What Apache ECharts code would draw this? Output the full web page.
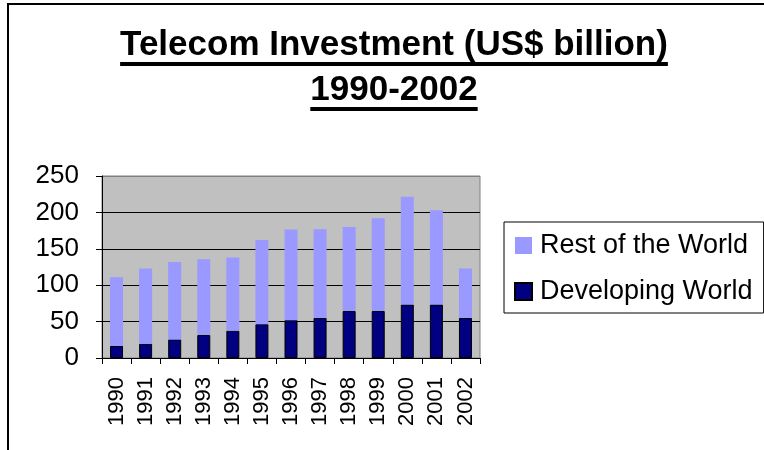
<!DOCTYPE html>
<html>
<head>
<meta charset="utf-8">
<script src="https://cdn.jsdelivr.net/npm/echarts@6/dist/echarts.min.js"></script>
<style>
  html, body { margin: 0; padding: 0; background: #fff; }
  #main { width: 764px; height: 450px; }
</style>
</head>
<body>
<div id="main"></div>
<script>
// data
const years = ['1990', '1991', '1992', '1993', '1994', '1995', '1996', '1997', '1998', '1999', '2000', '2001', '2002'];
const developingWorld = [16.5, 19.5, 25.5, 31.5, 37.5, 46.5, 52, 55, 64.5, 64.5, 73.5, 73.5, 55];
const restOfWorld = [94.5, 103.5, 106.5, 104, 100.5, 115.5, 124.5, 122, 115.5, 127.5, 148, 129.5, 68];
const yTicks = [0, 50, 100, 150, 200, 250];
const titleLines = ['Telecom Investment (US$ billion)', '1990-2002'];

const font = 'Liberation Sans, Arial, sans-serif';
const titleFont = 'bold 35px ' + font;
const titleX = 394;
const titleY = [45.6, 90.6];

// measure title text so the underline fits it
const ctx = document.createElement('canvas').getContext('2d');
ctx.font = titleFont;
const underlines = titleLines.map(function (t, i) {
  const w = ctx.measureText(t).width;
  return {
    type: 'rect',
    shape: { x: titleX - w / 2, y: titleY[i] + 16.5, width: w, height: 4 },
    style: { fill: '#000' }
  };
});

const chart = echarts.init(document.getElementById('main'));
chart.setOption({
  animation: false,
  backgroundColor: '#fff',
  graphic: [
    {
      type: 'rect',
      shape: { x: 8, y: 4, width: 900, height: 700 },
      style: { fill: 'none', stroke: '#000', lineWidth: 2 }
    },
    {
      type: 'text',
      style: { text: titleLines[0], x: titleX, y: titleY[0], align: 'center', verticalAlign: 'middle', font: titleFont, fill: '#000' }
    },
    {
      type: 'text',
      style: { text: titleLines[1], x: titleX, y: titleY[1], align: 'center', verticalAlign: 'middle', font: titleFont, fill: '#000' }
    }
  ].concat(underlines),
  legend: {
    data: ['Rest of the World', 'Developing World'],
    orient: 'vertical',
    left: 504,
    top: 222,
    padding: [10, 11, 8, 10],
    itemGap: 19,
    itemWidth: 17,
    itemHeight: 17,
    icon: 'rect',
    borderColor: '#000',
    borderWidth: 1,
    textStyle: { fontFamily: font, fontSize: 27, color: '#000', lineHeight: 27, padding: [0, 0, 0, 3] }
  },
  grid: {
    left: 102,
    right: 284,
    top: 176,
    bottom: 92,
    show: true,
    backgroundColor: '#c0c0c0',
    borderColor: '#808080',
    borderWidth: 1
  },
  xAxis: {
    type: 'category',
    data: years,
    boundaryGap: true,
    axisLine: { lineStyle: { color: '#000', width: 1 } },
    axisTick: { show: true, inside: false, length: 6, alignWithLabel: false, lineStyle: { color: '#000' } },
    axisLabel: { rotate: 90, margin: 19, fontFamily: font, fontSize: 22, color: '#000', interval: 0 }
  },
  yAxis: {
    type: 'value',
    min: yTicks[0],
    max: yTicks[yTicks.length - 1],
    interval: yTicks[1] - yTicks[0],
    axisLine: { show: true, lineStyle: { color: '#000', width: 1 } },
    axisTick: { show: true, inside: false, length: 6, lineStyle: { color: '#000' } },
    axisLabel: { margin: 23, fontFamily: font, fontSize: 26, color: '#000' },
    splitLine: { show: true, lineStyle: { color: ['#000', '#000', '#000', '#000', '#000', '#808080'], width: 1 } }
  },
  series: [
    {
      name: 'Developing World',
      type: 'bar',
      stack: 'total',
      barWidth: 13,
      data: developingWorld,
      itemStyle: { color: '#000080', borderColor: '#000', borderWidth: 1 }
    },
    {
      name: 'Rest of the World',
      type: 'bar',
      stack: 'total',
      barWidth: 13,
      data: restOfWorld,
      itemStyle: { color: '#9999ff' }
    }
  ]
});
</script>
</body>
</html>
